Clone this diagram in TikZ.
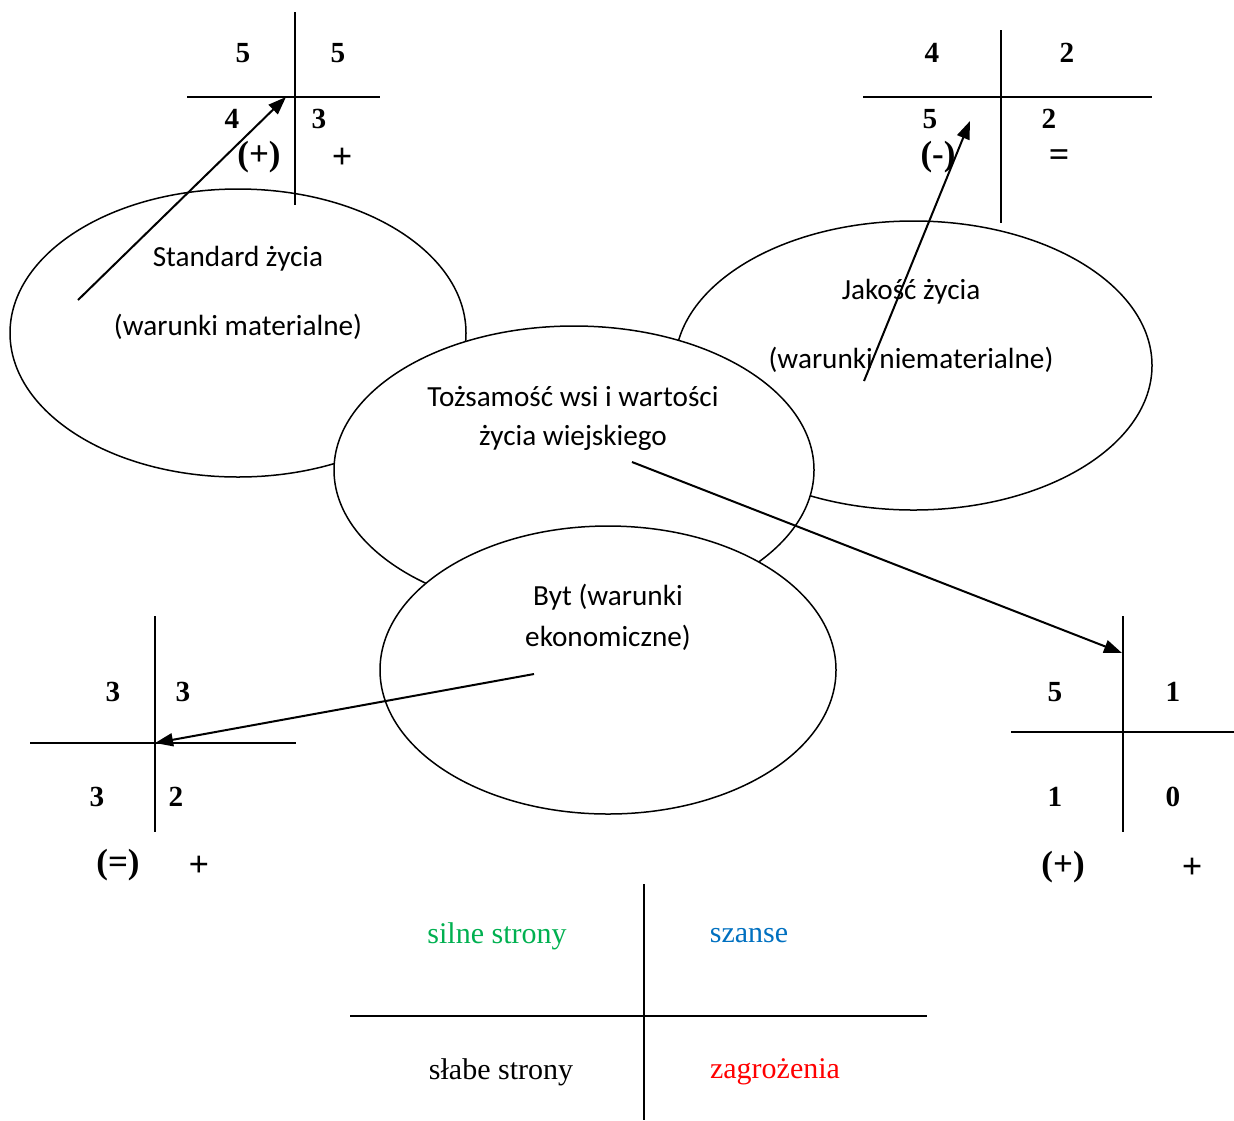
\documentclass[tikz,border=0pt]{standalone}
\usepackage{fontspec}
\setmainfont{Liberation Serif}
\newfontfamily\calfont{Carlito}
\usetikzlibrary{shapes.geometric,arrows.meta}
\definecolor{swgreen}{RGB}{0,176,80}
\definecolor{swblue}{RGB}{0,112,192}
\definecolor{swred}{RGB}{255,0,0}
\tikzset{
  oval/.style={ellipse,draw,line width=0.75pt,fill=white,inner sep=0pt,outer sep=0pt},
  lbl/.style={font=\calfont\fontsize{14.6}{20.5}\selectfont,inner sep=0pt,align=center},
  num/.style={font=\fontsize{14.6}{17}\selectfont\bfseries,inner sep=0pt},
  sgn/.style={font=\fontsize{17.5}{20}\selectfont\bfseries,inner sep=0pt},
  plain/.style={font=\fontsize{18}{22}\selectfont\bfseries,inner sep=0pt},
  sw/.style={font=\fontsize{15}{18}\selectfont,inner sep=0pt},
  axis/.style={line width=1pt},
  arr/.style={line width=1pt,-{Triangle[length=9pt,width=6.5pt]}}
}
\begin{document}
\begin{tikzpicture}[x=0.5pt,y=-0.5pt]
\useasboundingbox (0,0) rectangle (1234,1120);
% ellipses
\node[oval,minimum width=228pt,minimum height=144pt] (e1) at (238,333) {};
\node[oval,minimum width=238.5pt,minimum height=144.5pt] (e2) at (913.5,365.5) {};
\node[oval,minimum width=240pt,minimum height=144pt] (e3) at (574,470) {};
\node[oval,minimum width=228pt,minimum height=144pt] (e4) at (608,670) {};
% ellipse texts
\node[lbl] (t1a) at (238,259) {Standard życia};
\node[lbl] (t1b) at (238,327) {(warunki materialne)};
\node[lbl] (t2a) at (911,292) {Jakość życia};
\node[lbl] (t2b) at (911,360) {(warunki niematerialne)};
\node[lbl] (t3a) at (573,397) {Tożsamość wsi i wartości};
\node[lbl] (t3b) at (573,438) {życia wiejskiego};
\node[lbl] (t4a) at (608,597) {Byt (warunki};
\node[lbl] (t4b) at (608,638) {ekonomiczne)};
% table 1
\draw[axis] (295,12) -- (295,205);
\draw[axis] (187,97) -- (380,97);
\coordinate (c1) at (286,97);
\node[num] (n11) at (243,53) {5};
\node[num] (n12) at (338,53) {5};
\node[num] (n13) at (232,119) {4};
\node[num] (n14) at (319,119) {3};
\node[sgn] (n15) at (259,157) {(+)};
\node[plain] (n16) at (342,158) {+};
% table 2
\draw[axis] (1001,30) -- (1001,223);
\draw[axis] (863,97) -- (1152,97);
\coordinate (c2) at (970,121);
\node[num] (n21) at (932,53) {4};
\node[num] (n22) at (1067,53) {2};
\node[num] (n23) at (930,119) {5};
\node[num] (n24) at (1049,119) {2};
\node[sgn] (n25) at (938,157) {(-)};
\node[plain] (n26) at (1059,158) {=};
% table 3
\draw[axis] (155,616) -- (155,832);
\draw[axis] (30,743) -- (296,743);
\coordinate (c3) at (155,743);
\node[num] (n31) at (113,692) {3};
\node[num] (n32) at (183,692) {3};
\node[num] (n33) at (97,797) {3};
\node[num] (n34) at (176,797) {2};
\node[sgn] (n35) at (118,865) {(=)};
\node[plain] (n36) at (199,866) {+};
% table 4
\draw[axis] (1123,616) -- (1123,832);
\draw[axis] (1011,732) -- (1234,732);
\coordinate (c4) at (1122,653);
\node[num] (n41) at (1055,692) {5};
\node[num] (n42) at (1173,692) {1};
\node[num] (n43) at (1055,797) {1};
\node[num] (n44) at (1173,797) {0};
\node[sgn] (n45) at (1063,867) {(+)};
\node[plain] (n46) at (1192,868) {+};
% SWOT legend
\draw[axis] (644,884) -- (644,1120);
\draw[axis] (350,1016) -- (927,1016);
\node[sw,text=swgreen] (s1) at (497,936) {silne strony};
\node[sw,text=swblue] (s2) at (749,936) {szanse};
\node[sw] (s3) at (501,1072) {słabe strony};
\node[sw,text=swred] (s4) at (775,1072) {zagrożenia};
% arrows
\coordinate (a1) at (78,300);
\coordinate (a2) at (864,381);
\coordinate (a3) at (534,674);
\coordinate (a4) at (632,462);
\draw[arr] (a1) -- (c1);
\draw[arr] (a2) -- (c2);
\draw[arr] (a3) -- (c3);
\draw[arr] (a4) -- (c4);
\end{tikzpicture}
\end{document}
